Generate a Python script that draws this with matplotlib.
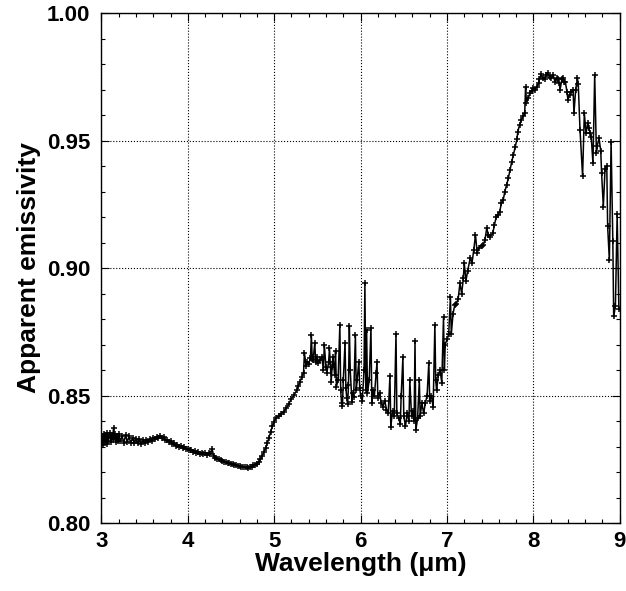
import numpy as np
import matplotlib.pyplot as plt
from matplotlib.ticker import MultipleLocator

plt.rcParams['font.family'] = ['Liberation Sans', 'DejaVu Sans']
plt.rcParams['font.weight'] = 'bold'

# smooth, densely sampled part of the spectrum (3-5 um)
wl_low = [3.00, 3.01, 3.02, 3.03, 3.04, 3.05, 3.06, 3.07, 3.08, 3.09,
          3.10, 3.11, 3.12, 3.13, 3.14, 3.15, 3.16, 3.17, 3.18, 3.19,
          3.20, 3.22, 3.24, 3.26, 3.28, 3.30, 3.32, 3.34, 3.36, 3.38,
          3.40, 3.42, 3.44, 3.46, 3.48, 3.50, 3.52, 3.54, 3.56, 3.58,
          3.60, 3.62, 3.64, 3.66, 3.68, 3.70, 3.72, 3.74, 3.76, 3.78,
          3.80, 3.82, 3.84, 3.86, 3.88, 3.90, 3.92, 3.94, 3.96, 3.98,
          4.00, 4.02, 4.04, 4.06, 4.08, 4.10, 4.12, 4.14, 4.16, 4.18,
          4.20, 4.22, 4.24, 4.26, 4.28, 4.30, 4.32, 4.34, 4.36, 4.38,
          4.40, 4.42, 4.44, 4.46, 4.48, 4.50, 4.52, 4.54, 4.56, 4.58,
          4.60, 4.62, 4.64, 4.66, 4.68, 4.70, 4.72, 4.74, 4.76, 4.78,
          4.80, 4.82, 4.84, 4.86, 4.88, 4.90, 4.92, 4.94, 4.96, 4.98,
          5.00]
em_low = [0.8325, 0.8340, 0.8305, 0.8350, 0.8318, 0.8345, 0.8310, 0.8352, 0.8322, 0.8340,
          0.8355, 0.8318, 0.8345, 0.8328, 0.8372, 0.8335, 0.8350, 0.8318, 0.8342, 0.8320,
          0.8350, 0.8320, 0.8340, 0.8315, 0.8345, 0.8318, 0.8340, 0.8312, 0.8335, 0.8315,
          0.8330, 0.8312, 0.8328, 0.8310, 0.8325, 0.8313, 0.8326, 0.8318, 0.8330, 0.8322,
          0.8334, 0.8328, 0.8338, 0.8332, 0.8340, 0.8333, 0.8336, 0.8326, 0.8324, 0.8318,
          0.8320, 0.8311, 0.8313, 0.8304, 0.8307, 0.8300, 0.8302, 0.8295, 0.8297, 0.8290,
          0.8292, 0.8285, 0.8287, 0.8280, 0.8282, 0.8276, 0.8278, 0.8272, 0.8275, 0.8270,
          0.8273, 0.8267, 0.8275, 0.8272, 0.8292, 0.8262, 0.8256, 0.8252, 0.8250, 0.8246,
          0.8245, 0.8240, 0.8239, 0.8235, 0.8236, 0.8232, 0.8231, 0.8227, 0.8227, 0.8224,
          0.8223, 0.8220, 0.8220, 0.8218, 0.8218, 0.8217, 0.8219, 0.8221, 0.8226, 0.8229,
          0.8232, 0.8240, 0.8250, 0.8262, 0.8277, 0.8294, 0.8313, 0.8335, 0.8358, 0.8380,
          0.8398]

# noisy part (5-7 um)
wl_mid = [5.02, 5.05, 5.08, 5.11, 5.14, 5.17, 5.20, 5.23, 5.26, 5.28,
          5.30, 5.32, 5.34, 5.35, 5.37, 5.38, 5.40, 5.42, 5.43, 5.44,
          5.45, 5.47, 5.48, 5.50, 5.51, 5.53, 5.55, 5.57, 5.58, 5.60,
          5.61, 5.63, 5.64, 5.66, 5.67, 5.68, 5.70, 5.71, 5.72, 5.74,
          5.76, 5.77, 5.78, 5.79, 5.80, 5.82, 5.83, 5.84, 5.85, 5.86,
          5.87, 5.88, 5.90, 5.91, 5.92, 5.94, 5.95, 5.96, 5.98, 5.99,
          6.00, 6.02, 6.04, 6.05, 6.06, 6.07, 6.08, 6.10, 6.12, 6.13,
          6.14, 6.16, 6.18, 6.19, 6.20, 6.22, 6.24, 6.26, 6.28, 6.30,
          6.32, 6.34, 6.35, 6.37, 6.39, 6.41, 6.42, 6.44, 6.46, 6.47,
          6.49, 6.50, 6.52, 6.54, 6.56, 6.57, 6.59, 6.61, 6.62, 6.63,
          6.64, 6.66, 6.68, 6.69, 6.71, 6.73, 6.75, 6.77, 6.79, 6.80,
          6.82, 6.84, 6.86, 6.87, 6.88, 6.90, 6.92, 6.94, 6.96, 6.97,
          6.98, 7.00]
em_mid = [0.8412, 0.8420, 0.8428, 0.8437, 0.8450, 0.8468, 0.8488, 0.8502, 0.8520, 0.8538,
          0.8555, 0.8572, 0.8590, 0.8668, 0.8615, 0.8633, 0.8625, 0.8646, 0.8738, 0.8645,
          0.8640, 0.8705, 0.8632, 0.8650, 0.8627, 0.8640, 0.8653, 0.8600, 0.8700, 0.8610,
          0.8590, 0.8630, 0.8685, 0.8555, 0.8610, 0.8653, 0.8580, 0.8676, 0.8535, 0.8560,
          0.8777, 0.8520, 0.8470, 0.8457, 0.8560, 0.8707, 0.8530, 0.8490, 0.8466, 0.8540,
          0.8773, 0.8600, 0.8476, 0.8510, 0.8496, 0.8737, 0.8520, 0.8560, 0.8633, 0.8530,
          0.8500, 0.8480, 0.8600, 0.8940, 0.8520, 0.8757, 0.8510, 0.8560, 0.8764, 0.8470,
          0.8520, 0.8500, 0.8590, 0.8630, 0.8490, 0.8510, 0.8470, 0.8456, 0.8480, 0.8445,
          0.8430, 0.8577, 0.8378, 0.8440, 0.8420, 0.8741, 0.8430, 0.8410, 0.8390, 0.8500,
          0.8650, 0.8420, 0.8380, 0.8430, 0.8400, 0.8561, 0.8420, 0.8440, 0.8400, 0.8715,
          0.8365, 0.8410, 0.8560, 0.8420, 0.8470, 0.8430, 0.8470, 0.8500, 0.8629, 0.8480,
          0.8500, 0.8454, 0.8777, 0.8560, 0.8520, 0.8580, 0.8600, 0.8550, 0.8807, 0.8600,
          0.8700, 0.8720]

# rising edge and plateau (7-9 um)
wl_high = [7.02, 7.04, 7.05, 7.07, 7.09, 7.11, 7.13, 7.15, 7.17, 7.19,
           7.20, 7.22, 7.24, 7.27, 7.29, 7.31, 7.33, 7.35, 7.37, 7.40,
           7.42, 7.44, 7.46, 7.48, 7.50, 7.53, 7.55, 7.57, 7.59, 7.61,
           7.63, 7.65, 7.67, 7.69, 7.71, 7.73, 7.75, 7.77, 7.79, 7.81,
           7.82, 7.84, 7.86, 7.88, 7.90, 7.91, 7.92, 7.94, 7.96, 7.98,
           8.00, 8.02, 8.04, 8.06, 8.07, 8.09, 8.11, 8.13, 8.15, 8.17,
           8.19, 8.21, 8.23, 8.25, 8.27, 8.28, 8.30, 8.31, 8.33, 8.34,
           8.36, 8.37, 8.39, 8.40, 8.42, 8.44, 8.46, 8.47, 8.49, 8.51,
           8.52, 8.54, 8.57, 8.59, 8.61, 8.63, 8.64, 8.66, 8.67, 8.69,
           8.71, 8.73, 8.74, 8.76, 8.78, 8.79, 8.81, 8.83, 8.85, 8.86,
           8.88, 8.90, 8.92, 8.93, 8.95, 8.97, 8.99]
em_high = [0.8740, 0.8888, 0.8740, 0.8820, 0.8855, 0.8860, 0.8880, 0.8940, 0.8900, 0.8960,
           0.9020, 0.8950, 0.8990, 0.9040, 0.9020, 0.9070, 0.9130, 0.9058, 0.9080, 0.9086,
           0.9090, 0.9110, 0.9156, 0.9130, 0.9123, 0.9136, 0.9170, 0.9200, 0.9208, 0.9220,
           0.9254, 0.9265, 0.9300, 0.9325, 0.9352, 0.9385, 0.9417, 0.9445, 0.9476, 0.9505,
           0.9535, 0.9560, 0.9580, 0.9595, 0.9607, 0.9711, 0.9646, 0.9665, 0.9685, 0.9695,
           0.9705, 0.9700, 0.9711, 0.9725, 0.9740, 0.9760, 0.9745, 0.9740, 0.9755, 0.9764,
           0.9750, 0.9744, 0.9755, 0.9731, 0.9745, 0.9740, 0.9725, 0.9700, 0.9740, 0.9745,
           0.9730, 0.9730, 0.9690, 0.9660, 0.9680, 0.9690, 0.9700, 0.9607, 0.9700, 0.9744,
           0.9720, 0.9542, 0.9360, 0.9607, 0.9528, 0.9570, 0.9548, 0.9530, 0.9515, 0.9410,
           0.9757, 0.9450, 0.9480, 0.9509, 0.9460, 0.9372, 0.9240, 0.9390, 0.9400, 0.9163,
           0.9030, 0.9496, 0.9104, 0.8810, 0.8850, 0.9210, 0.8840]

wavelength = wl_low + wl_mid + wl_high
emissivity = em_low + em_mid + em_high

fig = plt.figure(figsize=(6.26, 5.91), dpi=100)
ax = fig.add_axes([0.162, 0.115, 0.828, 0.863])

ax.plot(wavelength, emissivity, color='black', lw=1.1,
        marker='+', ms=4, mec='black', mew=1.1)

ax.set_xlim(3, 9)
ax.set_ylim(0.80, 1.00)
ax.xaxis.set_major_locator(MultipleLocator(1))
ax.xaxis.set_minor_locator(MultipleLocator(0.2))
ax.yaxis.set_major_locator(MultipleLocator(0.05))
ax.yaxis.set_minor_locator(MultipleLocator(0.01))
ax.yaxis.set_major_formatter(plt.FormatStrFormatter('%.2f'))

ax.tick_params(which='both', direction='in', top=True, right=True,
               labelsize=16)
ax.tick_params(axis='x', pad=6)
ax.tick_params(axis='y', pad=8)
ax.tick_params(which='major', length=6, width=0.8)
ax.tick_params(which='minor', length=3, width=0.8)
ax.grid(True, which='major', color='black', linestyle=':', lw=0.8)

for s in ax.spines.values():
    s.set_linewidth(1.0)

ax.set_xlabel('Wavelength (\u03bcm)', fontsize=19, fontweight='bold', labelpad=0)
ax.set_ylabel('Apparent emissivity', fontsize=19, fontweight='bold', labelpad=4)

fig.savefig('out.png', dpi=100)
